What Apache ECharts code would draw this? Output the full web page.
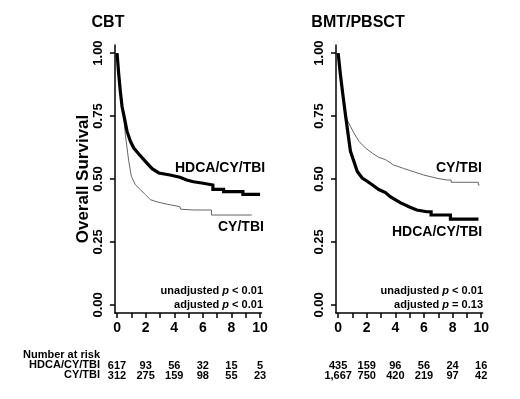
<!DOCTYPE html>
<html>
<head>
<meta charset="utf-8">
<script src="https://cdn.jsdelivr.net/npm/echarts@6/dist/echarts.min.js"></script>
<style>html,body{margin:0;padding:0;background:#fff}#main{width:520px;height:399px}</style>
</head>
<body>
<div id="main"></div>
<script>
// ticks
var yearTicks = [0,1,2,3,4,5,6,7,8,9,10];
var yearLabels = [0,2,4,6,8,10];
var survTicks = [0,0.25,0.5,0.75,1];

// Kaplan-Meier curves: [years, survival]
var cbtHdca = [[0,1],[0.12,0.914],[0.23,0.848],[0.35,0.788],[0.54,0.735],[0.7,0.689],[0.93,0.65],[1.17,0.623],[1.52,0.599],[1.98,0.57],[2.45,0.541],[2.92,0.524],[3.7,0.516],[4.4,0.507],[4.87,0.496],[5.34,0.489],[6.03,0.483],[6.7,0.476],[6.7,0.459],[7.45,0.459],[7.45,0.45],[8.8,0.45],[8.8,0.439],[10,0.439]];
var cbtCy = [[0,1],[0.12,0.914],[0.23,0.848],[0.35,0.788],[0.48,0.74],[0.58,0.676],[0.7,0.623],[0.82,0.57],[1.0,0.511],[1.28,0.477],[1.63,0.458],[1.98,0.438],[2.33,0.418],[2.8,0.409],[3.5,0.4],[4.4,0.39],[4.45,0.38],[5.34,0.377],[6.6,0.377],[6.6,0.357],[9.42,0.357]];
var bmtHdca = [[0,1],[0.16,0.914],[0.33,0.835],[0.51,0.755],[0.7,0.676],[0.86,0.61],[1.1,0.57],[1.33,0.531],[1.68,0.504],[2.03,0.491],[2.38,0.477],[2.84,0.458],[3.31,0.446],[3.64,0.43],[4.34,0.406],[5.03,0.388],[5.5,0.377],[6.2,0.37],[6.5,0.37],[6.5,0.357],[7.85,0.357],[7.85,0.341],[9.81,0.341]];
var bmtCy = [[0,1],[0.16,0.914],[0.33,0.835],[0.4,0.795],[0.63,0.735],[0.86,0.709],[1.1,0.683],[1.45,0.65],[1.91,0.623],[2.38,0.603],[2.84,0.586],[3.31,0.577],[3.87,0.556],[4.57,0.542],[5.27,0.529],[5.97,0.516],[6.9,0.503],[7.6,0.496],[7.9,0.496],[7.9,0.487],[9.8,0.487],[9.8,0.476],[9.88,0.476]];

// number at risk
var riskYears = [0,2,4,6,8,10];
var cbtRiskHdca = [617,93,56,32,15,5];
var cbtRiskCy = [312,275,159,98,55,23];
var bmtRiskHdca = [435,159,96,56,24,16];
var bmtRiskCy = [1667,750,420,219,97,42];

var FONT = '"Liberation Sans", Arial, sans-serif';
var fmt = function (n) { return n.toLocaleString('en-US'); };

function mainX(g) {
    return {
        type: 'value', gridIndex: g, min: -0.15, max: 10.1,
        axisLine: {show: true, onZero: false, lineStyle: {color: '#000', width: 1.5}},
        axisTick: {show: true, length: 5, customValues: yearTicks, lineStyle: {color: '#000', width: 1.5}},
        axisLabel: {customValues: yearLabels, margin: 8, color: '#000', fontSize: 14, fontWeight: 'bold', fontFamily: FONT},
        splitLine: {show: false}
    };
}
function riskX(g, arr, off) {
    return {
        type: 'value', gridIndex: g, min: -0.15, max: 10.1, position: 'bottom', offset: off,
        axisLine: {show: false, onZero: false}, axisTick: {show: false}, splitLine: {show: false},
        axisLabel: {customValues: riskYears, margin: 0, color: '#000', fontSize: 11, fontWeight: 'bold', fontFamily: FONT,
            formatter: function (v) { return fmt(arr[riskYears.indexOf(v)]); }}
    };
}
function mainY(g) {
    return {
        type: 'value', gridIndex: g, min: -0.032, max: 1.032,
        axisLine: {show: true, onZero: false, lineStyle: {color: '#000', width: 1.5}},
        axisTick: {show: true, length: 5, customValues: survTicks, lineStyle: {color: '#000', width: 1.5}},
        axisLabel: {customValues: survTicks, rotate: 90, margin: 10, color: '#000', fontSize: 13, fontWeight: 'bold', fontFamily: FONT,
            formatter: function (v) { return v.toFixed(2); }},
        splitLine: {show: false}
    };
}
function km(name, xi, data, thick) {
    return {
        name: name, type: 'line', xAxisIndex: xi, yAxisIndex: xi, symbol: 'none', data: data,
        lineStyle: thick ? {color: '#000', width: 3.2, join: 'miter'} : {color: '#666', width: 1}
    };
}
function txt(x, y, s, size, align) {
    return {type: 'text', x: x, y: y, style: {text: s, fill: '#000', font: 'bold ' + size + 'px ' + FONT, align: align || 'left', verticalAlign: 'middle'}};
}
function ptxt(x, y, label, cmp) {
    return {type: 'text', x: x, y: y, style: {
        text: label + ' {i|p} ' + cmp, fill: '#000', font: 'bold 11px ' + FONT, align: 'right', verticalAlign: 'middle',
        rich: {i: {fontStyle: 'italic', fontWeight: 'bold', fontSize: 11, fontFamily: FONT}}
    }};
}

var option = {
    backgroundColor: '#fff',
    animation: false,
    grid: [
        {left: 114.9, top: 45, width: 146.6, height: 268},
        {left: 336, top: 45, width: 146.6, height: 268}
    ],
    xAxis: [mainX(0), mainX(1),
        riskX(0, cbtRiskHdca, 47), riskX(0, cbtRiskCy, 57.5),
        riskX(1, bmtRiskHdca, 47), riskX(1, bmtRiskCy, 57.5)],
    yAxis: [mainY(0), mainY(1)],
    series: [
        km('CY/TBI', 0, cbtCy, false),
        km('HDCA/CY/TBI', 0, cbtHdca, true),
        km('CY/TBI', 1, bmtCy, false),
        km('HDCA/CY/TBI', 1, bmtHdca, true)
    ],
    graphic: [
        txt(108, 23, 'CBT', 16, 'center'),
        txt(358, 23, 'BMT/PBSCT', 16, 'center'),
        {type: 'text', x: 83, y: 179, rotation: Math.PI / 2, style: {text: 'Overall Survival', fill: '#000', font: 'bold 17px ' + FONT, align: 'center', verticalAlign: 'middle'}},
        txt(175, 168, 'HDCA/CY/TBI', 14),
        txt(218, 227, 'CY/TBI', 14),
        txt(436, 168, 'CY/TBI', 14),
        txt(392, 232, 'HDCA/CY/TBI', 14),
        ptxt(263, 291, 'unadjusted', '< 0.01'),
        ptxt(263, 305, 'adjusted', '< 0.01'),
        ptxt(483, 291, 'unadjusted', '< 0.01'),
        ptxt(483, 305, 'adjusted', '= 0.13'),
        txt(23, 355, 'Number at risk', 11),
        txt(100, 365, 'HDCA/CY/TBI', 11, 'right'),
        txt(100, 375, 'CY/TBI', 11, 'right')
    ]
};
var myChart = echarts.init(document.getElementById('main'));
myChart.setOption(option);
</script>
</body>
</html>
